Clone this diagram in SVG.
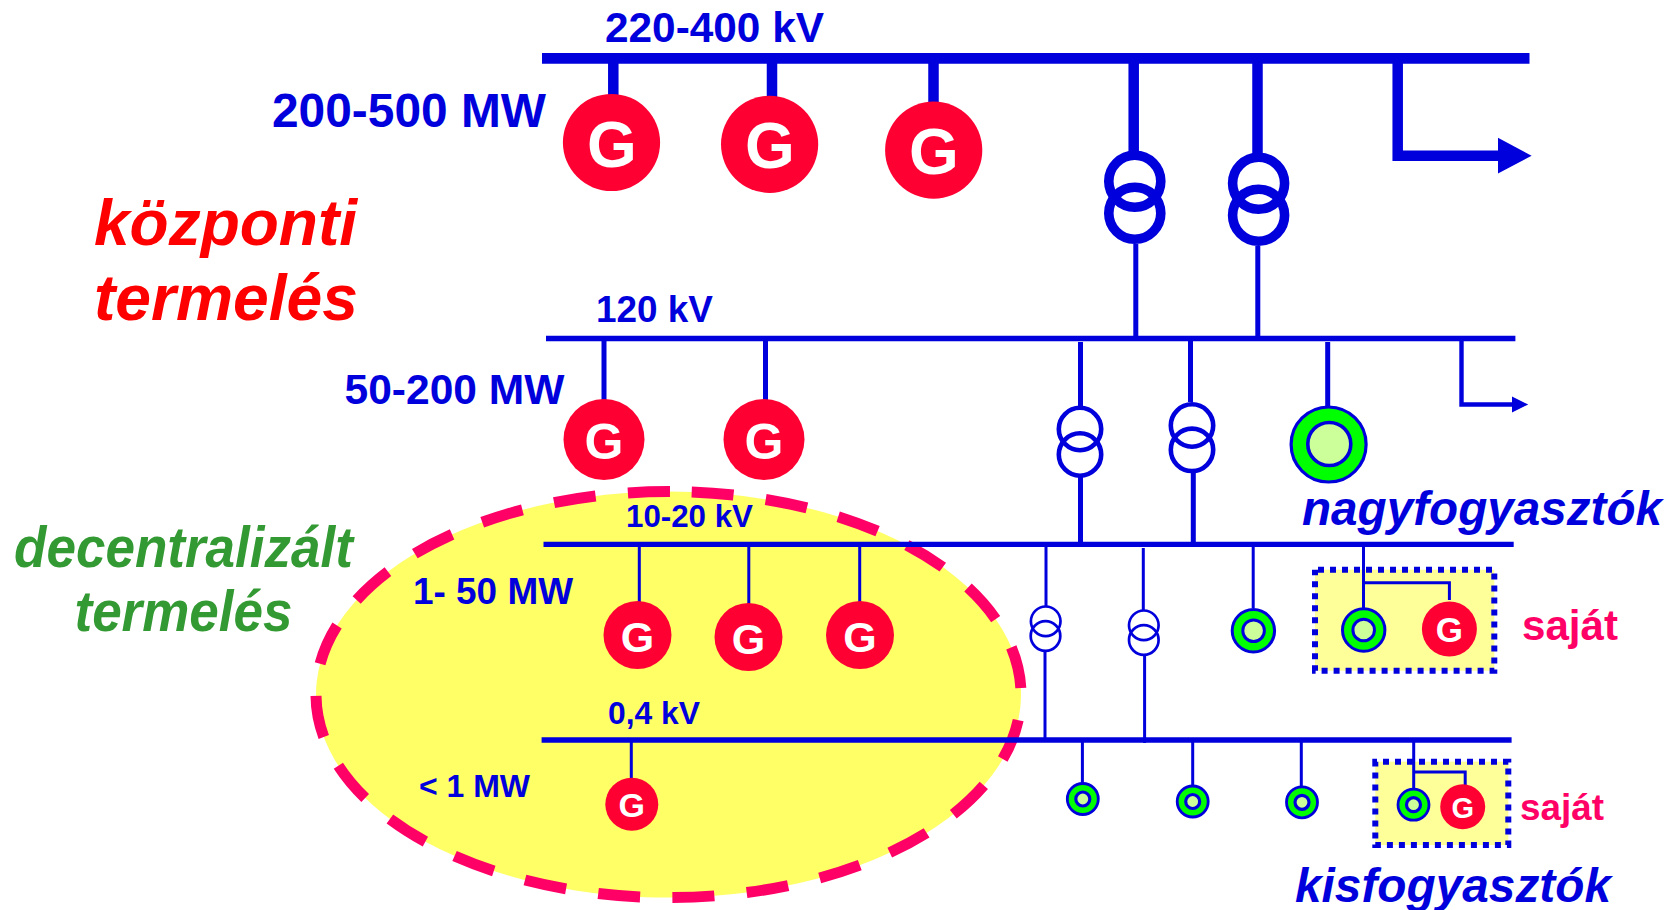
<svg xmlns="http://www.w3.org/2000/svg" width="1673" height="910" viewBox="0 0 1673 910">
<style>
text{font-family:"Liberation Sans",Arial,sans-serif;font-weight:bold}
.b{fill:#0000dd}
.it{font-style:italic}
.red{fill:#ff0000}
.grn{fill:#339933}
.pk{fill:#ff0066}
.gen{fill:#ff0033}
.g{fill:#fff;text-anchor:middle}
.cons{fill:#00ff00;stroke:#0000dd}
.inner{fill:#ccff99;stroke:#0000dd}
.tr{fill:none;stroke:#0000dd}
.box{fill:#ffff99;stroke:#0000dd;stroke-width:6;stroke-dasharray:6 6}
.c{fill:none;stroke:#0000dd}
.w10{stroke-width:10.5}.w5{stroke-width:5}.w3{stroke-width:3}
</style>
<defs>
<marker id="ah" markerUnits="strokeWidth" markerWidth="3.2" markerHeight="3.4" refX="0" refY="1.7" orient="auto" overflow="visible"><path d="M0 0L3.2 1.7L0 3.4Z" fill="#0000dd"/></marker>
<marker id="ah2" markerUnits="strokeWidth" markerWidth="3.7" markerHeight="3.6" refX="0" refY="1.8" orient="auto" overflow="visible"><path d="M0 0L3.7 1.8L0 3.6Z" fill="#0000dd"/></marker>
</defs>
<path id="decentral-zone" d="M691.7 492.04A352.5 203 0 1 1 645.3 897.16A352.5 203 0 1 1 691.7 492.04Z" fill="#ffff66" stroke="#ff0066" stroke-width="11" stroke-dasharray="42 32.45"/>
<rect id="own-box-1" class="box" x="1315" y="569.7" width="179.3" height="101" stroke-dashoffset="-3"/>
<rect id="own-box-2" class="box" x="1375.3" y="761.7" width="133" height="83.3" stroke-dashoffset="-7.7"/>
<g id="connectors">
<path class="c w10" d="M613.3 63V95M772 63V97M933.5 63V103M1133.7 63V152M1257.5 63V154"/>
<path class="c w5" d="M1135.8 244V338M1257.8 246V338M604 341V400M765.5 341V400M1080.5 342V406M1190.5 341V402M1327.7 342V406M1080.5 477V542M1193.3 473V542"/>
<path class="c w3" d="M639.3 546V602M748.8 546V604M859.7 546V602M631.3 742V779M1046 546V606M1045 652V738M1143.3 548V610M1144.6 656V743M1253.2 546V608M1363.5 546V608M1363.5 582.7H1449.4V600M1082.4 742V783M1192.7 742V786M1301.3 742V787M1413.7 742V788M1413.7 772H1465.2V785"/>
<path class="c" stroke-width="10.5" marker-end="url(#ah)" d="M1397.7 63V155.7H1498"/>
<path class="c" stroke-width="4.4" marker-end="url(#ah2)" d="M1461.5 341V404.5H1512"/>
<path class="c" stroke-width="10.7" d="M542 58.4H1529.5"/>
<path class="c" stroke-width="5.6" d="M546 338.5H1515.4"/>
<path class="c" stroke-width="5.2" d="M543.5 544.3H1513.7"/>
<path class="c" stroke-width="5.4" d="M541.6 740H1511.6"/>
</g>
<g id="gen-1"><circle class="gen" cx="611.5" cy="142.5" r="48.6"/><text class="g" x="612" y="166.5" font-size="64">G</text></g>
<g id="gen-2"><circle class="gen" cx="769.6" cy="144.3" r="48.6"/><text class="g" x="770" y="168.3" font-size="64">G</text></g>
<g id="gen-3"><circle class="gen" cx="933.7" cy="150.2" r="48.6"/><text class="g" x="934" y="174.2" font-size="64">G</text></g>
<g id="gen-4"><circle class="gen" cx="604" cy="439.5" r="40.5"/><text class="g" x="604" y="458.5" font-size="50">G</text></g>
<g id="gen-5"><circle class="gen" cx="764" cy="439.5" r="40.5"/><text class="g" x="764" y="458.5" font-size="50">G</text></g>
<g id="gen-6"><circle class="gen" cx="637.5" cy="635" r="34"/><text class="g" x="637.5" y="651.5" font-size="43">G</text></g>
<g id="gen-7"><circle class="gen" cx="748.5" cy="637" r="34"/><text class="g" x="748.5" y="653.5" font-size="43">G</text></g>
<g id="gen-8"><circle class="gen" cx="860" cy="635" r="34"/><text class="g" x="860" y="651.5" font-size="43">G</text></g>
<g id="gen-9"><circle class="gen" cx="631.8" cy="804.3" r="26.5"/><text class="g" x="631.8" y="817" font-size="34">G</text></g>
<g id="gen-10"><circle class="gen" cx="1449.4" cy="629" r="27.5"/><text class="g" x="1449.4" y="642" font-size="35">G</text></g>
<g id="gen-11"><circle class="gen" cx="1462.7" cy="806.8" r="22.5"/><text class="g" x="1462.7" y="817.5" font-size="29">G</text></g>
<g id="trafo-1" stroke-width="9.6"><circle cx="1134.8" cy="181.3" r="26" class="tr"/><circle cx="1134.8" cy="213.3" r="26" class="tr"/></g>
<g id="trafo-2" stroke-width="9.6"><circle cx="1258.6" cy="183.3" r="26" class="tr"/><circle cx="1258.6" cy="215.2" r="26" class="tr"/></g>
<g id="trafo-3" stroke-width="4.6"><circle cx="1080" cy="429" r="21.2" class="tr"/><circle cx="1080" cy="454.5" r="21.2" class="tr"/></g>
<g id="trafo-4" stroke-width="4.6"><circle cx="1192" cy="425.5" r="21.2" class="tr"/><circle cx="1192" cy="449.8" r="21.2" class="tr"/></g>
<g id="trafo-5" stroke-width="2.7"><circle cx="1045.7" cy="621.3" r="14.8" class="tr"/><circle cx="1045.5" cy="636" r="14.8" class="tr"/></g>
<g id="trafo-6" stroke-width="2.7"><circle cx="1143.8" cy="625.3" r="14.8" class="tr"/><circle cx="1143.8" cy="640" r="14.8" class="tr"/></g>
<g id="large-load-1"><circle class="cons" cx="1328.6" cy="444.5" r="37.5" stroke-width="3.2"/><circle class="inner" cx="1329.3" cy="444" r="21.5" stroke-width="3.6"/></g>
<g id="large-load-2"><circle class="cons" cx="1253.4" cy="630.7" r="21.2" stroke-width="3"/><circle class="inner" cx="1253.6" cy="630.7" r="10.8" stroke-width="3"/></g>
<g id="large-load-3"><circle class="cons" cx="1363.7" cy="630" r="21.2" stroke-width="3"/><circle class="inner" cx="1363.7" cy="630" r="10.8" stroke-width="3"/></g>
<g id="small-load-1"><circle class="cons" cx="1082.8" cy="799" r="15.5" stroke-width="2.8"/><circle class="inner" cx="1082.8" cy="799" r="7" stroke-width="3.2"/></g>
<g id="small-load-2"><circle class="cons" cx="1192.7" cy="801.5" r="15.5" stroke-width="2.8"/><circle class="inner" cx="1192.7" cy="801.5" r="7" stroke-width="3.2"/></g>
<g id="small-load-3"><circle class="cons" cx="1302" cy="802.3" r="15.5" stroke-width="2.8"/><circle class="inner" cx="1302" cy="802.3" r="7" stroke-width="3.2"/></g>
<g id="small-load-4"><circle class="cons" cx="1413.5" cy="804.7" r="15.5" stroke-width="2.8"/><circle class="inner" cx="1413.5" cy="804.7" r="7" stroke-width="3.2"/></g>
<g id="labels">
<text class="b" x="605" y="41.7" font-size="42" textLength="219" lengthAdjust="spacingAndGlyphs">220-400 kV</text>
<text class="b" x="272" y="127" font-size="48" textLength="274" lengthAdjust="spacingAndGlyphs">200-500 MW</text>
<text class="b" x="596" y="321.7" font-size="36.6" textLength="117" lengthAdjust="spacingAndGlyphs">120 kV</text>
<text class="b" x="344.5" y="403.5" font-size="42.6" textLength="220" lengthAdjust="spacingAndGlyphs">50-200 MW</text>
<text class="red it" x="94" y="245" font-size="64" textLength="263" lengthAdjust="spacingAndGlyphs">központi</text>
<text class="red it" x="94" y="320" font-size="64" textLength="264" lengthAdjust="spacingAndGlyphs">termelés</text>
<text class="grn it" x="14" y="566.6" font-size="56.6" textLength="339" lengthAdjust="spacingAndGlyphs">decentralizált</text>
<text class="grn it" x="74.5" y="630.6" font-size="56.6" textLength="218" lengthAdjust="spacingAndGlyphs">termelés</text>
<text class="b it" x="1302" y="525" font-size="47.6" textLength="360" lengthAdjust="spacingAndGlyphs">nagyfogyasztók</text>
<text class="b it" x="1295" y="901.7" font-size="48" textLength="316" lengthAdjust="spacingAndGlyphs">kisfogyasztók</text>
<text class="b" x="626" y="526.7" font-size="31" textLength="127" lengthAdjust="spacingAndGlyphs">10-20 kV</text>
<text class="b" x="413" y="603.8" font-size="36.6" textLength="160" lengthAdjust="spacingAndGlyphs">1- 50 MW</text>
<text class="b" x="608" y="724.3" font-size="31.5" textLength="92" lengthAdjust="spacingAndGlyphs">0,4 kV</text>
<text class="b" x="419" y="796.7" font-size="31.9" textLength="111" lengthAdjust="spacingAndGlyphs">&lt; 1 MW</text>
<text class="pk" x="1522" y="640" font-size="41.8" textLength="96" lengthAdjust="spacingAndGlyphs">saját</text>
<text class="pk" x="1520" y="820" font-size="36.6" textLength="84" lengthAdjust="spacingAndGlyphs">saját</text>
</g>
</svg>
